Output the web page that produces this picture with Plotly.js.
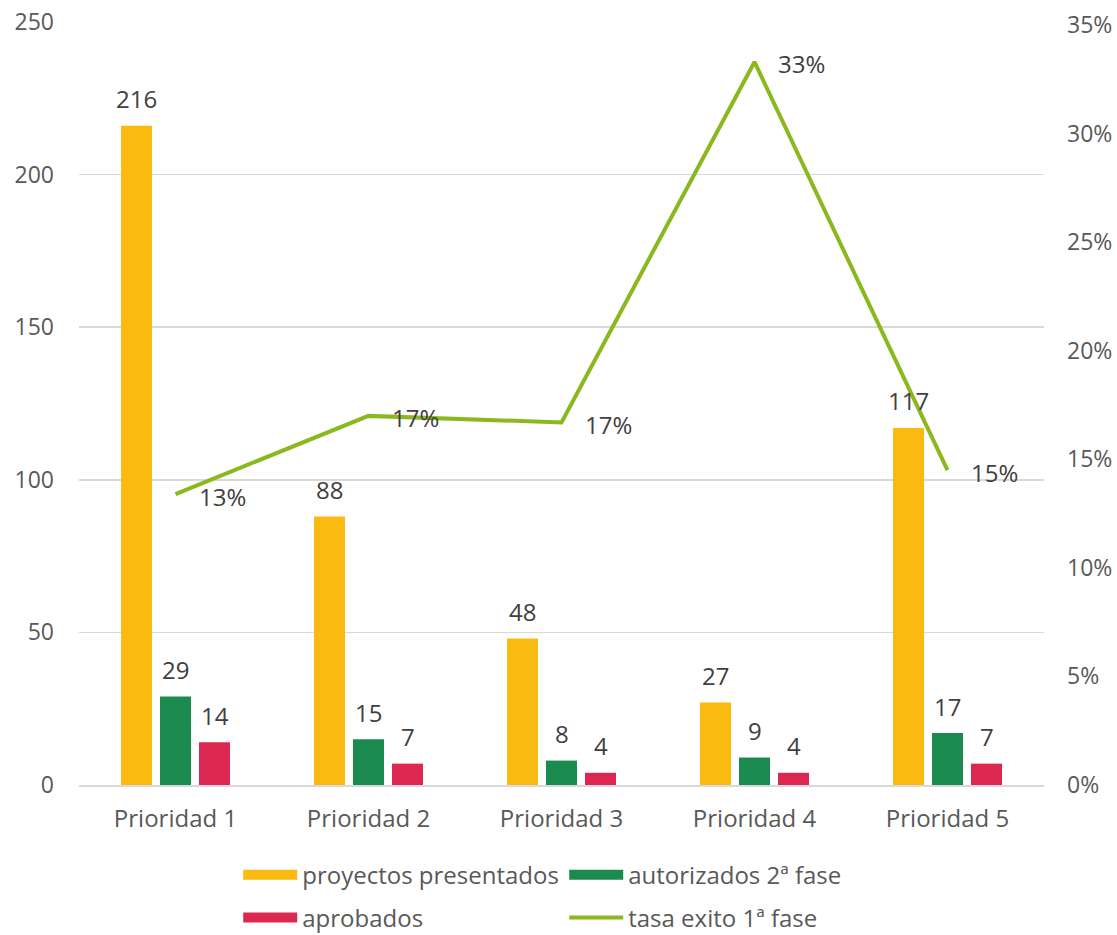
<!DOCTYPE html>
<html>
<head>
<meta charset="utf-8">
<script src="https://cdn.plot.ly/plotly-3.0.1.min.js"></script>
<style>html,body{margin:0;padding:0;background:#fff;}#chart{width:1117px;height:935px;}</style>
</head>
<body>
<div id="chart"></div>
<script>
const categories = ["Prioridad 1", "Prioridad 2", "Prioridad 3", "Prioridad 4", "Prioridad 5"];
const presentados = [216, 88, 48, 27, 117];
const autorizados = [29, 15, 8, 9, 17];
const aprobados = [14, 7, 4, 4, 7];
const tasaExito = [0.134, 0.170, 0.167, 0.333, 0.145];
const tasaLabels = ["13%", "17%", "17%", "33%", "15%"];
const seriesNames = ["proyectos presentados", "autorizados 2ª fase", "aprobados", "tasa exito 1ª fase"];
const leftTicks = [0, 50, 100, 150, 200, 250];
const rightTicks = [0, 0.05, 0.10, 0.15, 0.20, 0.25, 0.30, 0.35];
const rightTickLabels = ["0%", "5%", "10%", "15%", "20%", "25%", "30%", "35%"];

const cYellow = "#FBBA10", cGreen = "#1A8A4E", cRed = "#DC2850", cLine = "#8AB81E";
const FONT = "Open Sans, sans-serif";

const barSeries = [presentados, autorizados, aprobados];
const barColors = [cYellow, cGreen, cRed];

const traces = barSeries.map((vals, i) => ({
  type: "bar", x: categories, y: vals, name: seriesNames[i],
  marker: {color: barColors[i]}, showlegend: false, hoverinfo: "none"
}));
traces.push({
  type: "scatter", mode: "lines", x: categories, y: tasaExito, yaxis: "y2",
  name: seriesNames[3], line: {color: cLine, width: 4}, legend: "legend2", cliponaxis: false
});
// legend-only entries for bars
const legendOf = ["legend", "legend", "legend2"];
barSeries.forEach((vals, i) => {
  traces.push({
    type: "scatter", mode: "lines", x: [categories[0]], y: [null], name: seriesNames[i],
    line: {color: barColors[i], width: 14}, legend: legendOf[i], hoverinfo: "none"
  });
});
const ordered = [traces[0], traces[1], traces[2], traces[4], traces[5], traces[6], traces[3]];

const annotations = [];
const shifts = [-39, 0, 39];
barSeries.forEach((vals, s) => {
  vals.forEach((v, i) => {
    annotations.push({
      x: categories[i], y: v, xref: "x", yref: "y", text: String(v), showarrow: false,
      xshift: shifts[s], yshift: 27, xanchor: "center", yanchor: "middle",
      font: {family: FONT, size: 24, color: "#404040"}
    });
  });
});
tasaExito.forEach((v, i) => {
  annotations.push({
    x: categories[i], y: v, xref: "x", yref: "y2", text: tasaLabels[i], showarrow: false,
    xshift: 47, yshift: -2, xanchor: "center", yanchor: "middle",
    font: {family: FONT, size: 24, color: "#404040"}
  });
});

const layout = {
  width: 1117, height: 935,
  margin: {l: 79, r: 73, t: 22, b: 150, autoexpand: false},
  paper_bgcolor: "#fff", plot_bgcolor: "#fff",
  font: {family: FONT, size: 20, color: "#595959"},
  barmode: "group", bargap: 0.394, bargroupgap: 0.205,
  xaxis: {
    type: "category", showgrid: false, showline: true, linecolor: "#d9d9d9", linewidth: 1.5,
    ticks: "", tickfont: {family: FONT, size: 24, color: "#595959"}, ticklabelstandoff: 12,
    zeroline: false
  },
  yaxis: {
    range: [0, 250], tickvals: leftTicks, showgrid: true, gridcolor: "#d9d9d9", gridwidth: 1.5,
    zeroline: false, showline: false, ticks: "", ticklabelstandoff: 24,
    tickfont: {family: FONT, size: 23, color: "#595959"}
  },
  yaxis2: {
    overlaying: "y", side: "right", range: [0, 0.3514], tickvals: rightTicks, ticktext: rightTickLabels,
    showgrid: false, zeroline: false, showline: false, ticks: "", ticklabelstandoff: 22,
    tickfont: {family: FONT, size: 23, color: "#595959"}
  },
  showlegend: true,
  legend: {
    orientation: "h", x: 0.165, xanchor: "left", y: -0.118, yanchor: "middle",
    entrywidth: 257, entrywidthmode: "pixels", itemwidth: 54, traceorder: "normal",
    font: {family: FONT, size: 24, color: "#595959"}, bgcolor: "rgba(0,0,0,0)"
  },
  legend2: {
    orientation: "h", x: 0.165, xanchor: "left", y: -0.1743, yanchor: "middle",
    entrywidth: 257, entrywidthmode: "pixels", itemwidth: 54, traceorder: "normal",
    font: {family: FONT, size: 24, color: "#595959"}, bgcolor: "rgba(0,0,0,0)"
  },
  annotations: annotations
};

Plotly.newPlot("chart", ordered, layout, {displayModeBar: false, staticPlot: true});
</script>
</body>
</html>
